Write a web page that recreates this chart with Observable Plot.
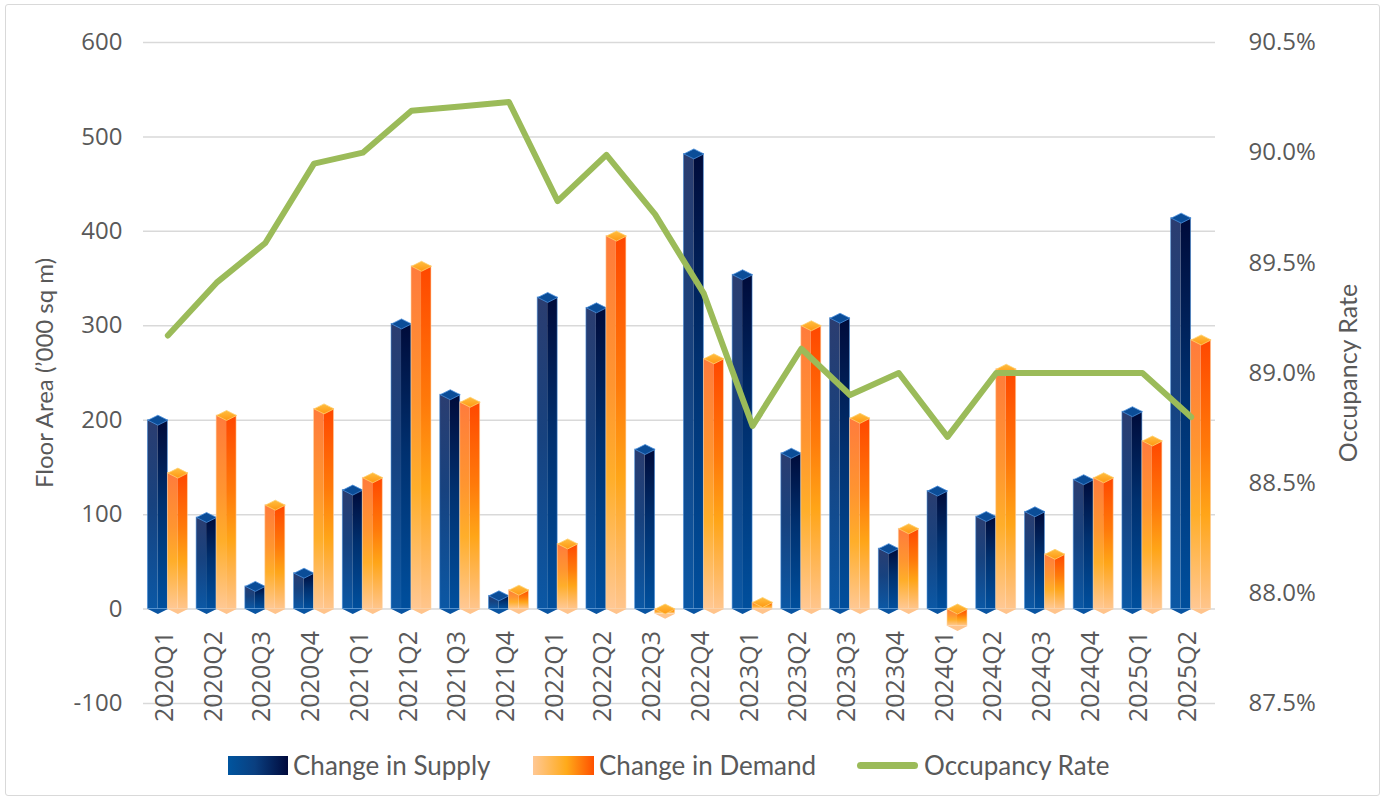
<!DOCTYPE html>
<html>
<head>
<meta charset="utf-8">
<script src="https://cdn.jsdelivr.net/npm/d3@7"></script>
<script src="https://cdn.jsdelivr.net/npm/@observablehq/plot@0.6"></script>
<style>
  html, body { margin: 0; padding: 0; background: #fff; }
  #chart { position: relative; width: 1386px; height: 801px; overflow: hidden; }
  #frame { position: absolute; left: 5px; top: 4px; width: 1375px; height: 792px; border: 1px solid #d9d9d9; border-radius: 3px; box-sizing: border-box; pointer-events: none; }
  #plot { position: absolute; left: 0; top: 0; }
  #legend { position: absolute; left: 0; top: 745px; width: 1386px; height: 40px; font-family: Lato, sans-serif; font-size: 26px; color: #595959; }
  .item { position: absolute; top: 0; height: 40px; display: flex; align-items: center; }
  .sw { position: absolute; }
</style>
</head>
<body>
<div id="chart">
  <div id="frame"></div>
  <div id="plot"></div>
  <div id="legend">
    <div class="sw" style="left:228px;top:11px;width:60px;height:19px;background:linear-gradient(to right,#00559f,#0a3f80 45%,#000a3c);"></div>
    <div class="item" style="left:293px;">Change in Supply</div>
    <div class="sw" style="left:533px;top:11px;width:61px;height:19px;background:linear-gradient(to right,#ffc894,#ffaa1a 55%,#ff5000);"></div>
    <div class="item" style="left:599px;">Change in Demand</div>
    <div class="sw" style="left:857px;top:17px;width:61px;height:7px;border-radius:4px;background:#9bbb59;"></div>
    <div class="item" style="left:924px;">Occupancy Rate</div>
  </div>
</div>
<script>
const quarters = ["2020Q1","2020Q2","2020Q3","2020Q4","2021Q1","2021Q2","2021Q3","2021Q4",
  "2022Q1","2022Q2","2022Q3","2022Q4","2023Q1","2023Q2","2023Q3","2023Q4",
  "2024Q1","2024Q2","2024Q3","2024Q4","2025Q1","2025Q2"];
const supply = [200, 97, 24, 38, 126, 302, 227, 14, 330, 319, 169, 482, 354, 165, 308, 64, 125, 98, 103, 137, 209, 414];
const demand = [144, 205, 110, 212, 139, 363, 219, 20, 69, 395, -5, 265, 7, 300, 202, 85, -18, 254, 58, 139, 178, 285];
const occupancy = [89.17, 89.41, 89.59, 89.95, 90.0, 90.19, 90.21, 90.23, 89.78, 89.99, 89.72, 89.36,
  88.76, 89.11, 88.90, 89.0, 88.71, 89.0, 89.0, 89.0, 89.0, 88.80];
const leftTicks = [-100, 0, 100, 200, 300, 400, 500, 600];
const rightTicks = [87.5, 88.0, 88.5, 89.0, 89.5, 90.0, 90.5];

const rows = quarters.map((q, i) => ({q, s: supply[i], d: demand[i], o: occupancy[i]}));
const occToY = d3.scaleLinear([87.5, 90.5], [-100, 600]);

const topDiamond = { draw(ctx) { ctx.moveTo(-10, 0); ctx.lineTo(0, -5); ctx.lineTo(10, 0); ctx.lineTo(0, 5); ctx.closePath(); } };
const bottomHalf = { draw(ctx) { ctx.moveTo(-10, 0); ctx.lineTo(10, 0); ctx.lineTo(0, 5); ctx.closePath(); } };

const svg = Plot.plot({
  width: 1386,
  height: 740,
  marginLeft: 143,
  marginRight: 171,
  marginTop: 42,
  marginBottom: 37,
  style: { fontFamily: "'Open Sans', sans-serif", fontSize: "24px", color: "#595959", background: "transparent" },
  x: { type: "band", domain: quarters, paddingInner: 0.18, paddingOuter: 0.09, round: false, axis: null },
  y: { domain: [-100, 600], axis: null },
  marks: [
    Plot.gridY(leftTicks, { stroke: "#d9d9d9", strokeOpacity: 1, strokeWidth: 1.5 }),
    Plot.axisY(leftTicks, { anchor: "left", tickSize: 0, tickPadding: 21, label: null, fill: "#595959", tickFormat: d => String(d) }),
    Plot.axisY(rightTicks.map(occToY), { anchor: "right", tickSize: 0, tickPadding: 33, label: null, textAnchor: "start",
      tickFormat: d => occToY.invert(d).toFixed(1) + "%", fill: "#595959" }),
    // supply bars (two faces)
    Plot.barY(rows, { x: "q", y: "s", insetRight: 30, fill: "url(#sL)" }),
    Plot.barY(rows, { x: "q", y: "s", insetLeft: 10, insetRight: 20, fill: "url(#sR)" }),
    Plot.barY(rows, { x: "q", y: "s", insetRight: 20, fill: "none", stroke: "#4b92dc", strokeWidth: 0.8, strokeOpacity: 0.7 }),
    Plot.dot(rows, { x: "q", y: d => Math.min(d.s, 0), dx: -10, symbol: bottomHalf, r: 5, fill: "#0a55a2", stroke: "none" }),
    Plot.dot(rows, { x: "q", y: d => Math.max(d.s, 0), dx: -10, symbol: topDiamond, r: 5, fill: "#0b4d98", stroke: "#4a8fdc", strokeWidth: 0.8 }),
    // demand bars (two faces)
    Plot.barY(rows, { x: "q", y: "d", insetLeft: 20, insetRight: 10, fill: "url(#dL)" }),
    Plot.barY(rows, { x: "q", y: "d", insetLeft: 30, fill: "url(#dR)" }),
    Plot.barY(rows, { x: "q", y: "d", insetLeft: 20, fill: "none", stroke: "#ffd2a0", strokeWidth: 0.8, strokeOpacity: 0.7 }),
    Plot.dot(rows, { x: "q", y: d => Math.min(d.d, 0), dx: 10, symbol: bottomHalf, r: 5, fill: "#ffc48c", stroke: "none" }),
    Plot.dot(rows, { x: "q", y: d => Math.max(d.d, 0), dx: 10, symbol: topDiamond, r: 5, fill: "url(#dT)", stroke: "#ffd070", strokeWidth: 0.8 }),
    // occupancy line
    Plot.line(rows, { x: "q", y: d => occToY(d.o), stroke: "#9bbb59", strokeWidth: 6, strokeLinejoin: "round", strokeLinecap: "round" }),
    // category labels
    Plot.text(quarters, { x: d => d, y: () => 0, text: d => d, rotate: -90, textAnchor: "end", dy: 22, dx: -3, fill: "#595959", fontSize: 25 }),
    // axis titles
    Plot.text(["Floor Area (\u2019000 sq m)"], { frameAnchor: "left", textAnchor: "middle", dx: -98, rotate: -90, text: d => d, fontFamily: "Lato, sans-serif", fontSize: 24, fill: "#595959" }),
    Plot.text(["Occupancy Rate"], { frameAnchor: "right", textAnchor: "middle", dx: 133, rotate: -90, text: d => d, fontFamily: "Lato, sans-serif", fontSize: 25, fill: "#595959" })
  ]
});

const defs = d3.select(svg).insert("defs", ":first-child");
function grad(id, stops, horizontal) {
  const g = defs.append("linearGradient").attr("id", id)
    .attr("x1", 0).attr("y1", 0).attr("x2", horizontal ? 1 : 0).attr("y2", horizontal ? 0 : 1);
  stops.forEach(([o, c]) => g.append("stop").attr("offset", o).attr("stop-color", c));
}
grad("sL", [[0, "#2b3d70"], [0.45, "#17427f"], [1, "#0b58a5"]]);
grad("sR", [[0, "#000b3a"], [0.45, "#00306f"], [1, "#004f9d"]]);
grad("dL", [[0, "#ff7b3c"], [0.4, "#ff9530"], [0.65, "#ffae2a"], [1, "#ffc894"]]);
grad("dR", [[0, "#ff4700"], [0.4, "#ff7a0a"], [0.65, "#ffa518"], [1, "#ffc58c"]]);
grad("dT", [[0, "#ffbe40"], [1, "#ff9812"]]);

document.getElementById("plot").appendChild(svg);
</script>
</body>
</html>
